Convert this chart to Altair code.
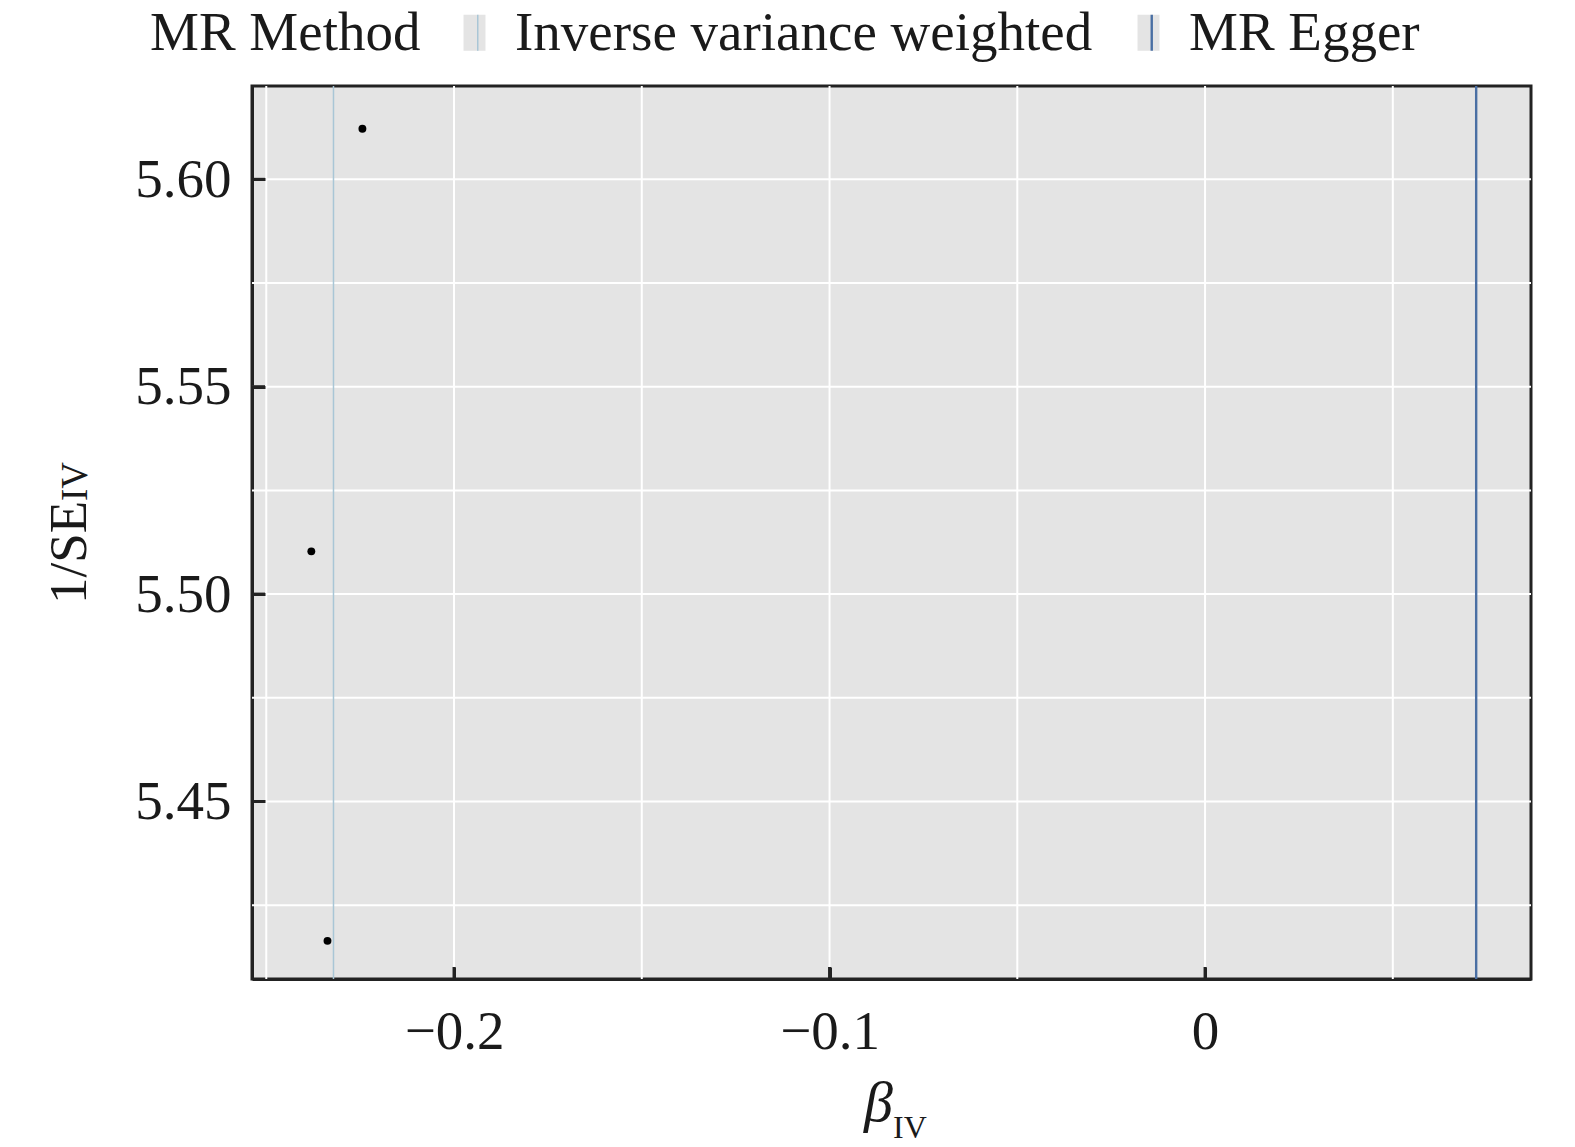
import altair as alt
import pandas as pd

# ---------------- data ----------------
beta_iv = [-0.2244, -0.2380, -0.2337]
inv_se_iv = [5.6122, 5.5103, 5.4164]

methods = ["Inverse variance weighted", "MR Egger"]
method_beta = [-0.2321, 0.0722]
method_colors = ["#a9c6d6", "#4a6fa3"]
method_widths = [1.5, 2.4]

x_domain = [-0.2538, 0.0868]
y_domain = [5.4072, 5.6225]
x_grid_values = [-0.25, -0.2, -0.15, -0.1, -0.05, 0.0, 0.05]
x_tick_values = [-0.2, -0.1, 0.0]
y_grid_values = [5.425, 5.45, 5.475, 5.5, 5.525, 5.55, 5.575, 5.6]
y_tick_values = [5.45, 5.5, 5.55, 5.6]

legend_title = "MR Method"
x_title_main = ["β"]
x_title_sub = ["IV"]
y_title_main = ["1/SE"]
y_title_sub = ["IV"]

# ---------------- styling ----------------
W, H = 1279, 893
FONT = "Liberation Serif"
TXT = "#1a1a1a"
FRAME = "#222222"
PANEL = "#e4e4e4"
FS = 55
XT_LEN = 12
YT_LEN = 13

pts_df = pd.DataFrame({"beta": beta_iv, "inv_se": inv_se_iv})
rules_df = pd.DataFrame({"method": methods, "b": method_beta})
xt_df = pd.DataFrame({"v": x_tick_values})
yt_df = pd.DataFrame({"v": y_tick_values})
xg_df = pd.DataFrame({"v": x_grid_values})
yg_df = pd.DataFrame({"v": y_grid_values})

xs = alt.Scale(domain=x_domain, nice=False, zero=False)
ys = alt.Scale(domain=y_domain, nice=False, zero=False)

# grid lines (first layers, behind everything)
x_grid = alt.Chart(xg_df).mark_rule(color="white", strokeWidth=2).encode(
    x=alt.X("v:Q", scale=xs, axis=None))
y_grid = alt.Chart(yg_df).mark_rule(color="white", strokeWidth=2).encode(
    y=alt.Y("v:Q", scale=ys, axis=None))

# points carry the labelled axes
points = alt.Chart(pts_df).mark_point(filled=True, color="black", size=62, opacity=1).encode(
    x=alt.X("beta:Q", scale=xs, axis=alt.Axis(
        orient="bottom", values=x_tick_values, grid=False, ticks=False, tickSize=0,
        format="~g", labelFont=FONT, labelFontSize=FS, labelColor=TXT, labelPadding=26,
        labelOverlap=False, labelFlush=False, labelBound=False,
        domain=True, domainColor=FRAME, domainWidth=3, title=None)),
    y=alt.Y("inv_se:Q", scale=ys, axis=alt.Axis(
        orient="left", values=y_tick_values, grid=False, ticks=False, tickSize=0,
        format=".2f", labelFont=FONT, labelFontSize=FS, labelColor=TXT, labelPadding=21,
        labelOverlap=False, labelFlush=False, labelBound=False,
        domain=True, domainColor=FRAME, domainWidth=3, title=None)),
)

SYMBOL_PATH = "M0.18,-1V1H-0.61V-1H0.61V1H0.18"

rules = alt.Chart(rules_df).mark_rule(fill=PANEL).encode(
    x=alt.X("b:Q", scale=xs, axis=None),
    strokeWidth=alt.StrokeWidth("method:N", scale=alt.Scale(domain=methods, range=method_widths),
                                legend=None),
    color=alt.Color("method:N", scale=alt.Scale(domain=methods, range=method_colors),
                    legend=alt.Legend(
                        title=legend_title, orient="none", legendX=-102, legendY=-81,
                        direction="horizontal", titleOrient="left",
                        titleFont=FONT, titleFontSize=FS, titleFontWeight="normal", titleColor=TXT,
                        titleLimit=3000,
                        labelFont=FONT, labelFontSize=FS, labelColor=TXT, labelLimit=3000,
                        symbolType=SYMBOL_PATH, symbolSize=1296, symbolStrokeWidth=1.5,
                        symbolDash=[36, 4000], symbolFillColor=PANEL, symbolOpacity=1,
                        labelOffset=13, columnPadding=28, titlePadding=26, padding=0)),
)

# inward ticks (1): short line glyphs placed through the shared scales
x_tick_marks = alt.Chart(xt_df).mark_point(
    shape="M0,0L0,-2", size=XT_LEN ** 2, filled=False, stroke=FRAME, strokeWidth=3, opacity=1
).encode(x=alt.X("v:Q", scale=xs, axis=None), y=alt.value(H))
y_tick_marks = alt.Chart(yt_df).mark_point(
    shape="M0,0L2,0", size=YT_LEN ** 2, filled=False, stroke=FRAME, strokeWidth=3, opacity=1
).encode(y=alt.Y("v:Q", scale=ys, axis=None), x=alt.value(0))

# inward ticks (2): axes on the opposite sides moved onto the frame, drawn above marks
tick_axes = alt.Chart(pts_df).mark_point(opacity=0).encode(
    x=alt.X("beta:Q", scale=xs, axis=alt.Axis(
        orient="top", offset=-H, values=x_tick_values, grid=False, labels=False,
        domain=False, ticks=True, tickSize=XT_LEN, tickWidth=3, tickColor=FRAME,
        tickOpacity=1, zindex=1, title=None)),
    y=alt.Y("inv_se:Q", scale=ys, axis=alt.Axis(
        orient="right", offset=-W, values=y_tick_values, grid=False, labels=False,
        domain=False, ticks=True, tickSize=YT_LEN, tickWidth=3, tickColor=FRAME,
        tickOpacity=1, zindex=1, title=None)),
)

xt_main = alt.Chart(pd.DataFrame({"t": x_title_main})).mark_text(
    font=FONT, fontSize=58, fontStyle="italic", align="right", baseline="alphabetic", color=TXT
).encode(x=alt.value(641), y=alt.value(1035), text="t:N")
xt_sub = alt.Chart(pd.DataFrame({"t": x_title_sub})).mark_text(
    font=FONT, fontSize=32, align="left", baseline="alphabetic", color=TXT
).encode(x=alt.value(641), y=alt.value(1052), text="t:N")
yt_main = alt.Chart(pd.DataFrame({"t": y_title_main})).mark_text(
    font=FONT, fontSize=53, angle=270, align="left", baseline="alphabetic", color=TXT
).encode(x=alt.value(-166), y=alt.value(518), text="t:N")
yt_sub = alt.Chart(pd.DataFrame({"t": y_title_sub})).mark_text(
    font=FONT, fontSize=37, angle=270, align="left", baseline="alphabetic", color=TXT
).encode(x=alt.value(-165), y=alt.value(415), text="t:N")

chart = alt.layer(
    x_grid, y_grid, points, rules, x_tick_marks, y_tick_marks, tick_axes,
    xt_main, xt_sub, yt_main, yt_sub
).resolve_axis(
    x="independent", y="independent"
).properties(
    width=W, height=H,
    padding={"left": 244, "top": 78, "right": 30, "bottom": 165},
    autosize=alt.AutoSizeParams(type="none"),
).configure(background="white").configure_view(fill=PANEL, stroke=FRAME, strokeWidth=3)

chart.save("out.html", embed_options={"renderer": "svg", "actions": False})
